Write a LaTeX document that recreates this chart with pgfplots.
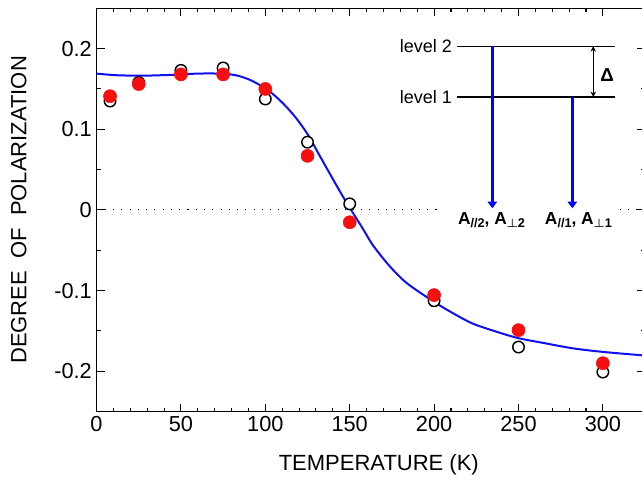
\documentclass[border=0pt]{standalone}
\usepackage{amsmath}
\usepackage{fontspec}
\setmainfont{Liberation Sans}
\usepackage{pgfplots}
\pgfplotsset{compat=1.18}
\usetikzlibrary{arrows.meta}
\definecolor{fitblue}{RGB}{15,15,245}
\definecolor{ptred}{RGB}{245,15,15}
\newcommand{\sub}[1]{\raisebox{-2.2pt}{\fontsize{9.5}{10}\selectfont #1}}

\begin{document}
\begin{tikzpicture}
\begin{axis}[
  name=ax,
  scale only axis, width=411.4pt, height=302.5pt,
  xmin=0, xmax=325, ymin=-0.25, ymax=0.25,
  xtick={0,50,100,150,200,250,300},
  xticklabels={0,50,100,150,200,250,300},
  minor x tick num=4,
  ytick={-0.2,-0.1,0,0.1,0.2},
  yticklabels={-0.2,-0.1,0,0.1,0.2},
  minor y tick num=1,
  tick align=inside, major tick length=6pt, minor tick length=3pt,
  tick style={black, line width=0.8pt},
  axis line style={line width=0.9pt},
  tick label style={font=\fontsize{16.3}{18}\selectfont},
  label style={font=\fontsize{16.5}{18}\selectfont},
  xlabel={TEMPERATURE (K)},
  ylabel={DEGREE\ \ OF\ \ POLARIZATION},
  xlabel style={xshift=6pt, yshift=-10pt},
  ylabel style={yshift=14pt},
  clip=false,
]
% zero line
\addplot[black, line width=0.8pt, dash pattern=on 0.8pt off 5.4pt] coordinates {(0,0)(203,0)};
\addplot[black, line width=0.8pt, dash pattern=on 0.8pt off 5.4pt] coordinates {(310,0)(325,0)};
% fitted curve
\addplot[fitblue, line width=1.5pt, smooth] coordinates {
  (0,0.169)(10,0.1672)(20,0.1665)(30,0.1665)(45,0.1675)(60,0.169)(72,0.169)
  (82,0.1672)(90,0.162)(97,0.1545)(104,0.1445)(111,0.131)(118,0.1145)
  (125,0.094)(132,0.068)(139,0.042)(146,0.0165)(152,-0.004)(158,-0.024)
  (164,-0.0445)(174,-0.0705)(184,-0.091)(200,-0.114)(212,-0.129)(223,-0.141)
  (237,-0.151)(250,-0.159)(265,-0.165)(282,-0.1715)(300,-0.176)(325,-0.1805)};
% open circles
\addplot[only marks, mark=*, mark size=4.3pt, mark options={fill=white, draw=black, line width=1.1pt}] coordinates {
  (8,0.135)(25,0.158)(50,0.173)(75,0.176)(100,0.1375)(125,0.084)(150,0.0075)
  (200,-0.1126)(250,-0.170)(300,-0.201)};
% filled red
\addplot[only marks, mark=*, mark size=4.9pt, ptred] coordinates {
  (8,0.141)(25,0.156)(50,0.168)(75,0.168)(100,0.150)(125,0.067)(150,-0.0153)
  (200,-0.1056)(250,-0.149)(300,-0.190)};
% level diagram
\draw[black, line width=0.8pt] (213.4,0.203) -- (307.2,0.203);
\draw[black, line width=0.8pt] (213.4,0.140) -- (307.2,0.140);
\node[anchor=east, font=\fontsize{13.5}{15}\selectfont, inner sep=1pt] at (211.5,0.203) {level 2};
\node[anchor=east, font=\fontsize{13.5}{15}\selectfont, inner sep=1pt] at (211.5,0.140) {level 1};
\draw[blue, line width=2.2pt, -{Triangle[width=7pt,length=5pt]}] (234.5,0.203) -- (234.5,0.002);
\draw[blue, line width=2.2pt, -{Triangle[width=7pt,length=5pt]}] (281.9,0.140) -- (281.9,0.002);
\draw[black, line width=0.8pt, {Stealth[width=4pt,length=4pt]}-{Stealth[width=4pt,length=4pt]}] (294.3,0.203) -- (294.3,0.140);
\node[font=\fontsize{14}{15}\selectfont\bfseries] at (302.5,0.1677) {Δ};
\node[font=\fontsize{13}{14}\selectfont\bfseries] at (234,-0.0124) {A\sub{//2}, A\sub{$\boldsymbol{\perp}$2}};
\node[font=\fontsize{13}{14}\selectfont\bfseries] at (285.5,-0.0124) {A\sub{//1}, A\sub{$\boldsymbol{\perp}$1}};
\end{axis}
\pgfresetboundingbox
\path[use as bounding box] ([shift={(-72.4pt,-52pt)}]ax.south west) rectangle ([shift={(-2.3pt,6.2pt)}]ax.north east);
\end{tikzpicture}
\end{document}
